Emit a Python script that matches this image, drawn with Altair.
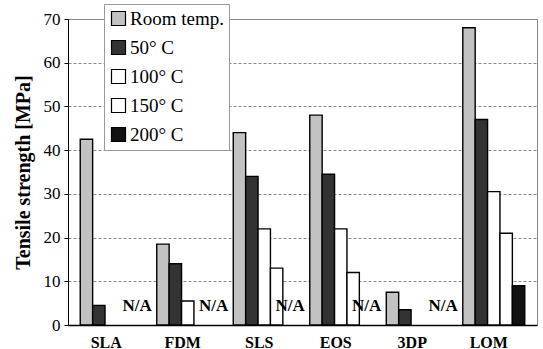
import altair as alt
import pandas as pd

categories = ["SLA", "FDM", "SLS", "EOS", "3DP", "LOM"]
temps = ["Room temp.", "50° C", "100° C", "150° C", "200° C"]
room = [42.5, 18.5, 44, 48, 7.5, 68]
c50 = [4.5, 14, 34, 34.5, 3.5, 47]
c100 = [None, 5.5, 22, 22, None, 30.5]
c150 = [None, None, 13, 12, None, 21]
c200 = [None, None, None, None, None, 9]
na_categories = ["SLA", "FDM", "SLS", "EOS", "3DP"]
na_level = 4.3

series = [room, c50, c100, c150, c200]
rows = []
for t, vals in zip(temps, series):
    for c, v in zip(categories, vals):
        if v is not None:
            rows.append({"material": c, "temp": t, "value": v})
df = pd.DataFrame(rows)
na_df = pd.DataFrame({"material": na_categories, "temp": ["200° C"] * len(na_categories),
                      "value": [na_level] * len(na_categories), "label": ["N/A"] * len(na_categories)})

colors = ["#c2c2c2", "#333333", "#ffffff", "#ffffff", "#111111"]
SERIF = "Liberation Serif"

xscale = alt.Scale(domain=categories, paddingInner=0.19, paddingOuter=0.16)
oscale = alt.Scale(domain=temps, paddingInner=0, paddingOuter=0)

bars = alt.Chart(df).mark_bar(stroke="#000000", strokeWidth=1.4).encode(
    x=alt.X("material:N", sort=categories, scale=xscale,
            axis=alt.Axis(title=None, labelAngle=0, ticks=False, domain=True,
                          domainColor="#000", domainWidth=1.5,
                          labelFont=SERIF, labelFontWeight="bold", labelFontSize=16,
                          labelColor="#000", labelPadding=9, labelOffset=-5)),
    xOffset=alt.XOffset("temp:N", sort=temps, scale=oscale),
    y=alt.Y("value:Q", scale=alt.Scale(domain=[0, 70], nice=False),
            axis=alt.Axis(title="Tensile strength [MPa]", values=list(range(0, 71, 10)),
                          labelFont=SERIF, labelFontSize=17, labelColor="#000",
                          titleFont=SERIF, titleFontSize=20, titleFontWeight="bold",
                          titleColor="#000", titlePadding=10, tickSize=4, labelPadding=4,
                          domainColor="#000", tickColor="#000",
                          grid=True, gridDash=[3, 2], gridColor="#888")),
    fill=alt.Fill("temp:N", sort=temps, scale=alt.Scale(domain=temps, range=colors),
                  legend=alt.Legend(title=None, orient="none", legendX=36, legendY=-15,
                                    symbolType="square", symbolSize=196, symbolStrokeColor="#000",
                                    symbolStrokeWidth=1.2, labelOffset=2,
                                    labelFont=SERIF, labelFontSize=19, labelColor="#000",
                                    rowPadding=9, padding=5, fillColor="#ffffff",
                                    strokeColor="#999")),
)

na_text = alt.Chart(na_df).mark_text(font=SERIF, fontWeight="bold", fontSize=17,
                                     color="#000", baseline="middle", align="center", dx=1).encode(
    x=alt.X("material:N", sort=categories, scale=xscale),
    xOffset=alt.XOffset("temp:N", sort=temps, scale=oscale),
    y=alt.Y("value:Q"),
    text="label:N",
)

chart = alt.layer(bars, na_text).properties(
    width=469, height=306,
    autosize=alt.AutoSizeParams(type="none"),
    padding={"left": 68, "top": 19, "right": 6, "bottom": 24},
).configure(background="white", font=SERIF,
            view=alt.ViewConfig(stroke="#888", strokeWidth=1))

chart.save("out.html", embed_options={"renderer": "svg", "actions": False})
